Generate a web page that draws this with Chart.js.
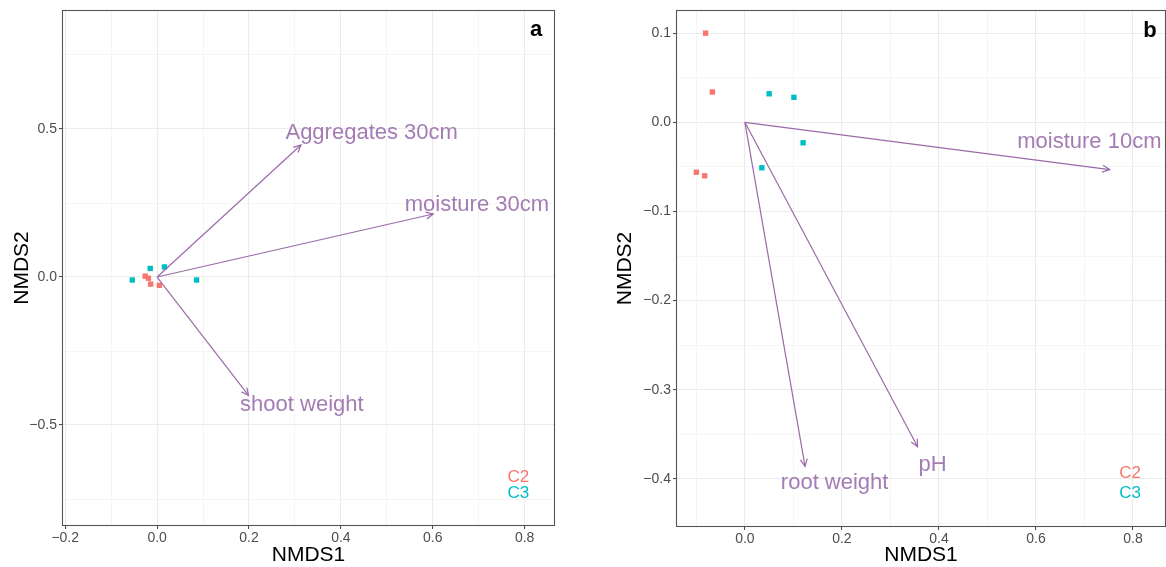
<!DOCTYPE html>
<html>
<head>
<meta charset="utf-8">
<script src="https://cdn.jsdelivr.net/npm/chart.js@4"></script>
<style>
  html, body { margin: 0; padding: 0; background: #ffffff; }
  body { width: 1166px; height: 567px; position: relative; overflow: hidden; }
  .panel { position: absolute; top: 0; height: 567px; }
  #wa { left: 0; width: 560px; }
  #wb { left: 600px; width: 570px; }
</style>
</head>
<body>
<div class="panel" id="wa"><canvas id="ca"></canvas></div>
<div class="panel" id="wb"><canvas id="cb"></canvas></div>
<script>
// ---------- DATA ----------
const groups = ['C2', 'C3'];

// Panel a
const aC2x = [-0.026, -0.019, -0.014, 0.005];
const aC2y = [0.003, -0.004, -0.024, -0.028];
const aC3x = [-0.054, -0.015, 0.016, 0.086];
const aC3y = [-0.010, 0.029, 0.034, -0.010];
const aVectors = ['Aggregates 30cm', 'moisture 30cm', 'shoot weight'];
const aVecX = [0.313, 0.601, 0.199];
const aVecY = [0.446, 0.213, -0.400];
const aLabX = [0.467, 0.696, 0.315];
const aLabY = [0.486, 0.243, -0.432];
const aGroupLabX = [0.786, 0.786];
const aGroupLabY = [-0.675, -0.731];
const aXRange = [-0.207, 0.866];
const aYRange = [-0.841, 0.902];
const aXMajor = [-0.2, 0.0, 0.2, 0.4, 0.6, 0.8];
const aXMinor = [-0.1, 0.1, 0.3, 0.5, 0.7];
const aYMajor = [-0.5, 0.0, 0.5];
const aYMinor = [-0.75, -0.25, 0.25, 0.75];
const aTag = ['a', 0.825, 0.834];

// Panel b
const bC2x = [-0.081, -0.067, -0.100, -0.083];
const bC2y = [0.100, 0.034, -0.056, -0.060];
const bC3x = [0.050, 0.101, 0.120, 0.035];
const bC3y = [0.032, 0.028, -0.023, -0.051];
const bVectors = ['moisture 10cm', 'root weight', 'pH'];
const bVecX = [0.752, 0.124, 0.356];
const bVecY = [-0.053, -0.386, -0.364];
const bLabX = [0.710, 0.185, 0.387];
const bLabY = [-0.0215, -0.405, -0.384];
const bGroupLabX = [0.794, 0.794];
const bGroupLabY = [-0.394, -0.416];
const bXRange = [-0.142, 0.868];
const bYRange = [-0.454, 0.126];
const bXMajor = [0.0, 0.2, 0.4, 0.6, 0.8];
const bXMinor = [-0.1, 0.1, 0.3, 0.5, 0.7];
const bYMajor = [-0.4, -0.3, -0.2, -0.1, 0.0, 0.1];
const bYMinor = [-0.45, -0.35, -0.25, -0.15, -0.05, 0.05];
const bTag = ['b', 0.835, 0.103];

// ---------- STYLE ----------
const FONT = "'Liberation Sans', Arial, 'DejaVu Sans', sans-serif";
const groupColors = ['#F8766D', '#00BFC4'];
const arrowColor = '#9a6aa8';
const arrowTextColor = '#a47cb4';

function isIn(arr, v) { return arr.some(a => Math.abs(a - v) < 1e-9); }
function fmt(v) {
  const s = Math.abs(v).toFixed(1);
  return (v < -1e-9 ? '\u2212' : '') + s;
}
function toPts(xs, ys) { return xs.map((x, i) => ({ x: x, y: ys[i] })); }

function makeAxis(range, major, minor, isX, size) {
  return {
    type: 'linear',
    min: range[0],
    max: range[1],
    afterBuildTicks: (scale) => {
      const all = major.concat(minor).slice().sort((p, q) => p - q);
      scale.ticks = all.map(v => ({ value: v, major: isIn(major, v) }));
    },
    afterFit: (scale) => {
      if (isX) { scale.height = size; scale.paddingLeft = 0; scale.paddingRight = 0; }
      else { scale.width = size; scale.paddingTop = 0; scale.paddingBottom = 0; }
    },
    border: { display: false },
    grid: {
      drawTicks: true,
      tickLength: 3,
      lineWidth: (ctx) => (ctx.tick && isIn(major, ctx.tick.value)) ? 1.1 : 0.8,
      color: (ctx) => (ctx.tick && isIn(major, ctx.tick.value)) ? '#ebebeb' : '#f3f3f3',
      tickColor: (ctx) => (ctx.tick && isIn(major, ctx.tick.value)) ? '#444444' : 'rgba(0,0,0,0)',
      tickWidth: 1
    },
    ticks: {
      autoSkip: false,
      maxRotation: 0,
      minRotation: 0,
      padding: isX ? 1 : 2,
      color: '#4d4d4d',
      font: { family: FONT, size: 14 },
      callback: (value) => isIn(major, value) ? fmt(value) : ''
    }
  };
}

function makeChart(canvasId, p) {
  const datasets = [];
  // arrows (vector lines)
  p.vecX.forEach((vx, i) => {
    datasets.push({
      type: 'line',
      label: p.vectors[i],
      data: [{ x: 0, y: 0 }, { x: vx, y: p.vecY[i] }],
      borderColor: arrowColor,
      borderWidth: 1.2,
      pointRadius: 0,
      fill: false,
      tension: 0
    });
  });
  datasets.push({
    label: groups[0],
    data: toPts(p.c2x, p.c2y),
    backgroundColor: groupColors[0],
    borderColor: groupColors[0],
    pointStyle: 'rect',
    pointRadius: 3.8,
    borderWidth: 0
  });
  datasets.push({
    label: groups[1],
    data: toPts(p.c3x, p.c3y),
    backgroundColor: groupColors[1],
    borderColor: groupColors[1],
    pointStyle: 'rect',
    pointRadius: 3.8,
    borderWidth: 0
  });

  const overlay = {
    id: 'overlay_' + canvasId,
    afterDatasetsDraw(chart) {
      const ctx = chart.ctx;
      const xs = chart.scales.x, ys = chart.scales.y;
      const ca = chart.chartArea;
      ctx.save();
      // arrowheads
      ctx.strokeStyle = arrowColor;
      ctx.lineWidth = 1.2;
      p.vecX.forEach((vx, i) => {
        const x0 = xs.getPixelForValue(0), y0 = ys.getPixelForValue(0);
        const x1 = xs.getPixelForValue(vx), y1 = ys.getPixelForValue(p.vecY[i]);
        const ang = Math.atan2(y1 - y0, x1 - x0);
        const L = 8, A = Math.PI / 7;
        ctx.beginPath();
        ctx.moveTo(x1 - L * Math.cos(ang - A), y1 - L * Math.sin(ang - A));
        ctx.lineTo(x1, y1);
        ctx.lineTo(x1 - L * Math.cos(ang + A), y1 - L * Math.sin(ang + A));
        ctx.stroke();
      });
      // vector labels
      ctx.fillStyle = arrowTextColor;
      ctx.font = '22px ' + FONT;
      ctx.textAlign = 'center';
      ctx.textBaseline = 'middle';
      p.vectors.forEach((t, i) => {
        ctx.fillText(t, xs.getPixelForValue(p.labX[i]), ys.getPixelForValue(p.labY[i]));
      });
      // group labels
      ctx.font = '17px ' + FONT;
      groups.forEach((g, i) => {
        ctx.fillStyle = groupColors[i];
        ctx.fillText(g, xs.getPixelForValue(p.glabX[i]), ys.getPixelForValue(p.glabY[i]));
      });
      // panel tag
      ctx.fillStyle = '#000000';
      ctx.font = 'bold 22px ' + FONT;
      ctx.fillText(p.tag[0], xs.getPixelForValue(p.tag[1]), ys.getPixelForValue(p.tag[2]));
      // panel border
      ctx.strokeStyle = '#555555';
      ctx.lineWidth = 1.1;
      ctx.strokeRect(ca.left + 0.5, ca.top + 0.5, ca.right - ca.left - 1, ca.bottom - ca.top - 1);
      // axis titles
      ctx.fillStyle = '#000000';
      ctx.font = '21px ' + FONT;
      ctx.textAlign = 'center';
      ctx.textBaseline = 'middle';
      ctx.fillText('NMDS1', (ca.left + ca.right) / 2, 555);
      ctx.save();
      ctx.translate(p.ytitleX, (ca.top + ca.bottom) / 2);
      ctx.rotate(-Math.PI / 2);
      ctx.fillText('NMDS2', 0, 0);
      ctx.restore();
      ctx.restore();
    }
  };

  return new Chart(document.getElementById(canvasId), {
    type: 'scatter',
    data: { datasets: datasets },
    options: {
      responsive: true,
      maintainAspectRatio: false,
      animation: false,
      events: [],
      layout: { padding: { top: 10, right: p.padRight, left: 0, bottom: 0 } },
      plugins: { legend: { display: false }, tooltip: { enabled: false } },
      scales: {
        x: makeAxis(p.xRange, p.xMajor, p.xMinor, true, p.xAxisH),
        y: makeAxis(p.yRange, p.yMajor, p.yMinor, false, p.yAxisW)
      }
    },
    plugins: [overlay]
  });
}

makeChart('ca', {
  c2x: aC2x, c2y: aC2y, c3x: aC3x, c3y: aC3y,
  vectors: aVectors, vecX: aVecX, vecY: aVecY, labX: aLabX, labY: aLabY,
  glabX: aGroupLabX, glabY: aGroupLabY, tag: aTag,
  xRange: aXRange, yRange: aYRange, xMajor: aXMajor, xMinor: aXMinor,
  yMajor: aYMajor, yMinor: aYMinor,
  xAxisH: 41, yAxisW: 62, padRight: 5, ytitleX: 22
});
makeChart('cb', {
  c2x: bC2x, c2y: bC2y, c3x: bC3x, c3y: bC3y,
  vectors: bVectors, vecX: bVecX, vecY: bVecY, labX: bLabX, labY: bLabY,
  glabX: bGroupLabX, glabY: bGroupLabY, tag: bTag,
  xRange: bXRange, yRange: bYRange, xMajor: bXMajor, xMinor: bXMinor,
  yMajor: bYMajor, yMinor: bYMinor,
  xAxisH: 40, yAxisW: 76, padRight: 0, ytitleX: 25
});
</script>
</body>
</html>
